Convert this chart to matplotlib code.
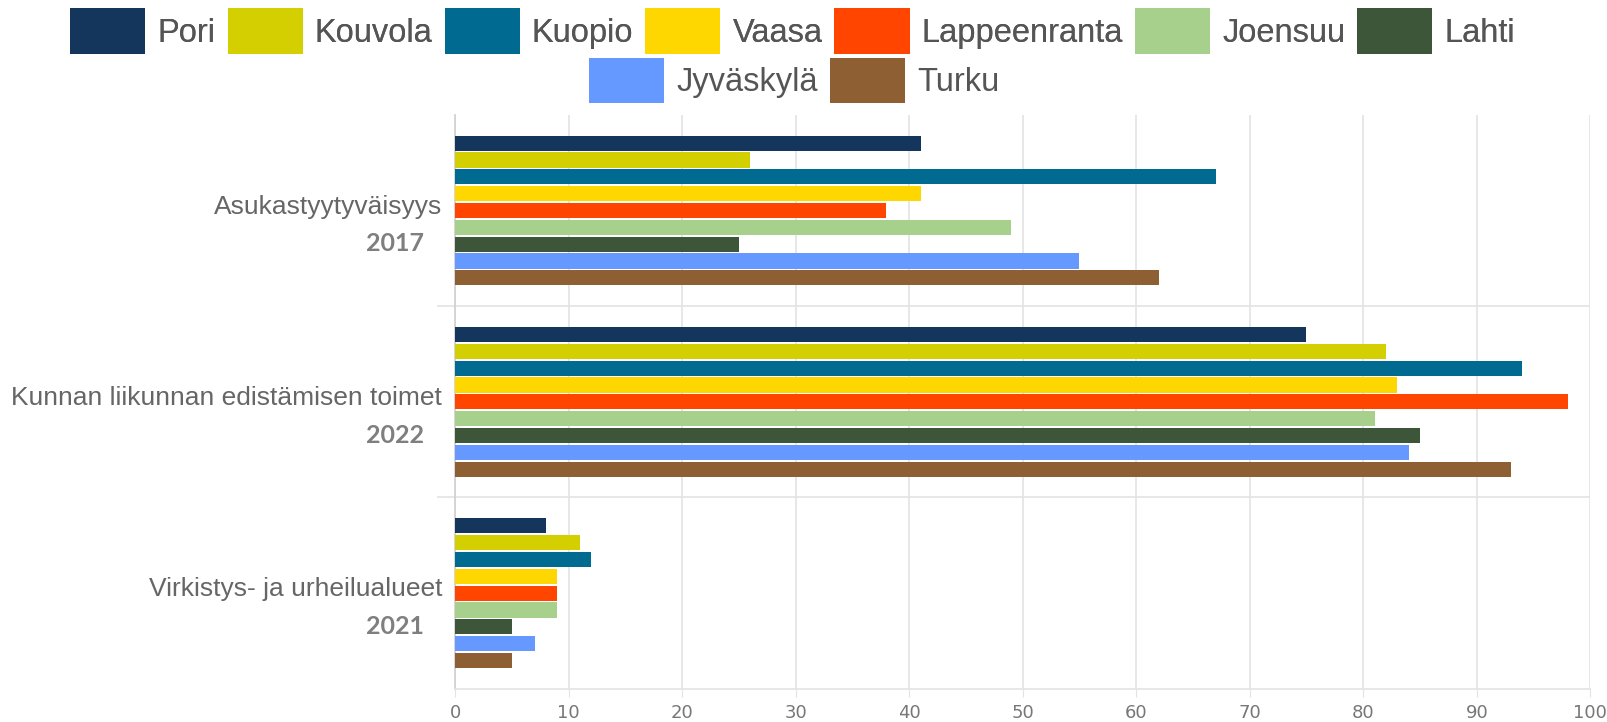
import numpy as np
import matplotlib.pyplot as plt
import matplotlib.transforms as mtransforms
from matplotlib.patches import Patch

# Données
categories = ["Asukastyytyväisyys", "Kunnan liikunnan edistämisen toimet", "Virkistys- ja urheilualueet"]
years = ["2017", "2022", "2021"]
cities = ["Pori", "Kouvola", "Kuopio", "Vaasa", "Lappeenranta", "Joensuu", "Lahti", "Jyväskylä", "Turku"]
colors = ["#14365d", "#d4cf00", "#016a91", "#ffd700", "#ff4500", "#a8d08d", "#3d5539", "#6699ff", "#8e5f33"]

pori = [41, 75, 8]
kouvola = [26, 82, 11]
kuopio = [67, 94, 12]
vaasa = [41, 83, 9]
lappeenranta = [38, 98, 9]
joensuu = [49, 81, 9]
lahti = [25, 85, 5]
jyvaskyla = [55, 84, 7]
turku = [62, 93, 5]
values = [pori, kouvola, kuopio, vaasa, lappeenranta, joensuu, lahti, jyvaskyla, turku]

fig = plt.figure(figsize=(16.08, 7.22), dpi=100)
ax = fig.add_axes([0.283, 0.046, 0.706, 0.795])

y = np.arange(len(categories))
slot = 0.088  # espace par barre
bar_h = 0.079
n = len(cities)
for i, (vals, col) in enumerate(zip(values, colors)):
    offs = (i - (n - 1) / 2) * slot
    ax.barh(y + offs, vals, height=bar_h, color=col, zorder=3)

ax.set_xlim(0, 100)
ax.set_ylim(2.5, -0.5)
ax.set_xticks(np.arange(0, 101, 10))
ax.grid(axis="x", color="#e3e3e3", linewidth=1.2, zorder=0)
ax.tick_params(axis="x", length=6, color="#e3e3e3", labelcolor="#777777", labelsize=13, pad=5)

# séparateurs entre catégories
ax.set_yticks([])
ax.set_yticks([0.5, 1.5], minor=True)
ax.tick_params(axis="y", which="minor", length=13, color="#e3e3e3", width=1.2)
ax.grid(axis="y", which="minor", color="#e3e3e3", linewidth=1.2, zorder=0)

for s in ["top", "right"]:
    ax.spines[s].set_visible(False)
ax.spines["left"].set_color("#d0d0d0")
ax.spines["bottom"].set_color("#e3e3e3")
ax.spines["left"].set_linewidth(1.2)
ax.spines["bottom"].set_linewidth(1.2)

# étiquettes des catégories
trans = mtransforms.blended_transform_factory(ax.transAxes, ax.transData)
for k, (cat, yr) in enumerate(zip(categories, years)):
    ax.text(-0.0115, k - 0.02, cat, transform=trans, ha="right", va="center",
            fontsize=19, color="#666666", family=["Liberation Sans", "DejaVu Sans"])
    ax.text(-0.0273, k + 0.175, yr, transform=trans, ha="right", va="center",
            fontsize=18, color="#7f7f7f", fontweight="bold", family=["Lato", "DejaVu Sans"])

# légende sur deux lignes centrées
handles = [Patch(facecolor=c, label=l) for c, l in zip(colors, cities)]
leg_kw = dict(frameon=False, handlelength=2.3, handleheight=1.75,
              handletextpad=0.37, columnspacing=0.37, labelcolor="#555555",
              prop={"family": "Liberation Sans", "size": 23.5})
leg1 = fig.legend(handles=handles[:7], loc="center", bbox_to_anchor=(0.493, 0.957), ncol=7, **leg_kw)
fig.add_artist(leg1)
fig.legend(handles=handles[7:], loc="center", bbox_to_anchor=(0.494, 0.889), ncol=2, **leg_kw)

fig.savefig("out.png", dpi=100)
